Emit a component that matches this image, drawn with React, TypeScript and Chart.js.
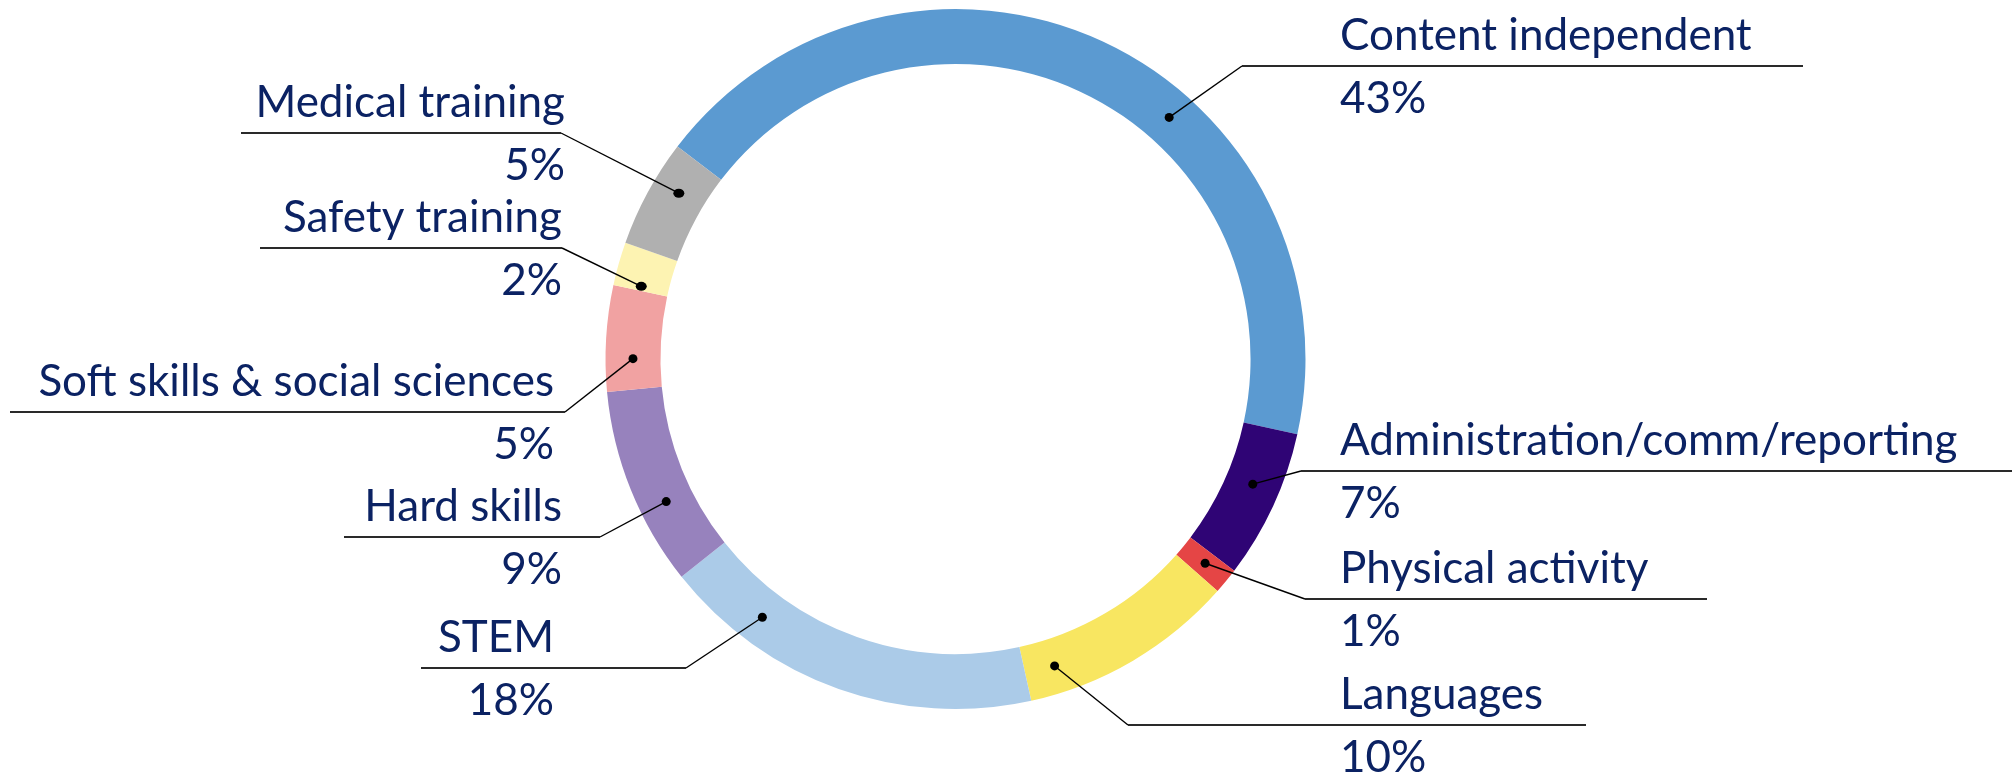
import React, { useEffect, useRef } from "react";
import { Chart, registerables } from "chart.js";

Chart.register(...registerables);

// ---- data ----
const categories = [
  "Content independent",
  "Administration/comm/reporting",
  "Physical activity",
  "Languages",
  "STEM",
  "Hard skills",
  "Soft skills & social sciences",
  "Safety training",
  "Medical training",
];
const shares = [43.1, 6.9, 1.2, 10.0, 17.8, 9.2, 4.9, 2.0, 5.0];
const shareLabels = ["43%", "7%", "1%", "10%", "18%", "9%", "5%", "2%", "5%"];
const sliceColors = [
  "#5B9AD1",
  "#2F0475",
  "#E54545",
  "#F8E661",
  "#ABCBE8",
  "#9782BD",
  "#F1A2A2",
  "#FDF3B2",
  "#B0B0B0",
];

// ---- label layout (callout positions, px) ----
const labelLayout = [
  { side: "right", dotT: 0.607, dotR: 4.5, elbowX: 1242, lineY: 66, farX: 1803, textX: 1340 },
  { side: "right", dotT: 0.42, dotR: 4.5, elbowX: 1301, lineY: 471, farX: 2012, textX: 1340 },
  { side: "right", dotT: 0.48, dotR: 4.5, elbowX: 1305, lineY: 599, farX: 1707, textX: 1340 },
  { side: "right", dotT: 0.85, dotR: 4.5, elbowX: 1128, lineY: 725, farX: 1586, textX: 1340 },
  { side: "left", dotT: 0.77, dotR: 4.5, elbowX: 686, lineY: 668, farX: 421, textX: 554 },
  { side: "left", dotT: 0.37, dotR: 4.5, elbowX: 600, lineY: 537, farX: 344, textX: 562 },
  { side: "left", dotT: 0.31, dotR: 4.5, elbowX: 565, lineY: 412, farX: 10, textX: 554 },
  { side: "left", dotT: 0.11, dotR: 5.5, elbowX: 562, lineY: 248, farX: 260, textX: 562 },
  { side: "left", dotT: 0.64, dotR: 5.5, elbowX: 561, lineY: 133, farX: 241, textX: 565 },
];

const TEXT_COLOR = "#0B2263";
const FONT = "44px Lato, 'Open Sans', sans-serif";

const calloutPlugin = {
  id: "callouts",
  afterDraw(chart: any) {
    const ctx = chart.ctx;
    const meta = chart.getDatasetMeta(0);
    ctx.save();
    meta.data.forEach((arc: any, i: number) => {
      const lay = labelLayout[i];
      const p = arc.getProps(["x", "y", "startAngle", "endAngle", "innerRadius", "outerRadius"], true);
      const ang = p.startAngle + lay.dotT * (p.endAngle - p.startAngle);
      const r = (p.innerRadius + p.outerRadius) / 2;
      const dx = p.x + Math.cos(ang) * r;
      const dy = p.y + Math.sin(ang) * r;

      // leader
      ctx.strokeStyle = "#000";
      ctx.lineWidth = 1.4;
      ctx.beginPath();
      ctx.moveTo(dx, dy);
      ctx.lineTo(lay.elbowX, lay.lineY);
      ctx.stroke();
      // underline
      ctx.strokeStyle = "#2a2a2a";
      ctx.lineWidth = 2;
      ctx.beginPath();
      ctx.moveTo(lay.elbowX, lay.lineY);
      ctx.lineTo(lay.farX, lay.lineY);
      ctx.stroke();
      // dot
      ctx.fillStyle = "#000";
      ctx.beginPath();
      ctx.ellipse(dx, dy, lay.dotR, lay.dotR > 5 ? lay.dotR - 1 : lay.dotR, 0, 0, Math.PI * 2);
      ctx.fill();

      // text
      ctx.fillStyle = TEXT_COLOR;
      ctx.font = FONT;
      ctx.textBaseline = "alphabetic";
      ctx.textAlign = lay.side === "right" ? "left" : "right";
      ctx.fillText(String(chart.data.labels[i]), lay.textX, lay.lineY - 16);
      ctx.fillText(shareLabels[i], lay.textX, lay.lineY + 47);
    });
    ctx.restore();
  },
};

export default function App() {
  const canvasRef = useRef<HTMLCanvasElement | null>(null);

  useEffect(() => {
    if (!canvasRef.current) return;
    const chart = new Chart(canvasRef.current, {
      type: "doughnut",
      data: {
        labels: categories,
        datasets: [
          {
            data: shares,
            backgroundColor: sliceColors,
            borderWidth: 0,
          },
        ],
      },
      options: {
        animation: false,
        responsive: true,
        maintainAspectRatio: false,
        devicePixelRatio: 1,
        rotation: -52.6,
        cutout: "84.3%",
        layout: { padding: { left: 605.5, right: 706.5, top: 9, bottom: 69 } },
        plugins: {
          legend: { display: false },
          tooltip: { enabled: false },
        },
        events: [],
      },
      plugins: [calloutPlugin],
    });
    return () => chart.destroy();
  }, []);

  return (
    <div style={{ position: "absolute", left: 0, top: 0, width: 2012, height: 778, background: "#fff" }}>
      <canvas ref={canvasRef} />
    </div>
  );
}
